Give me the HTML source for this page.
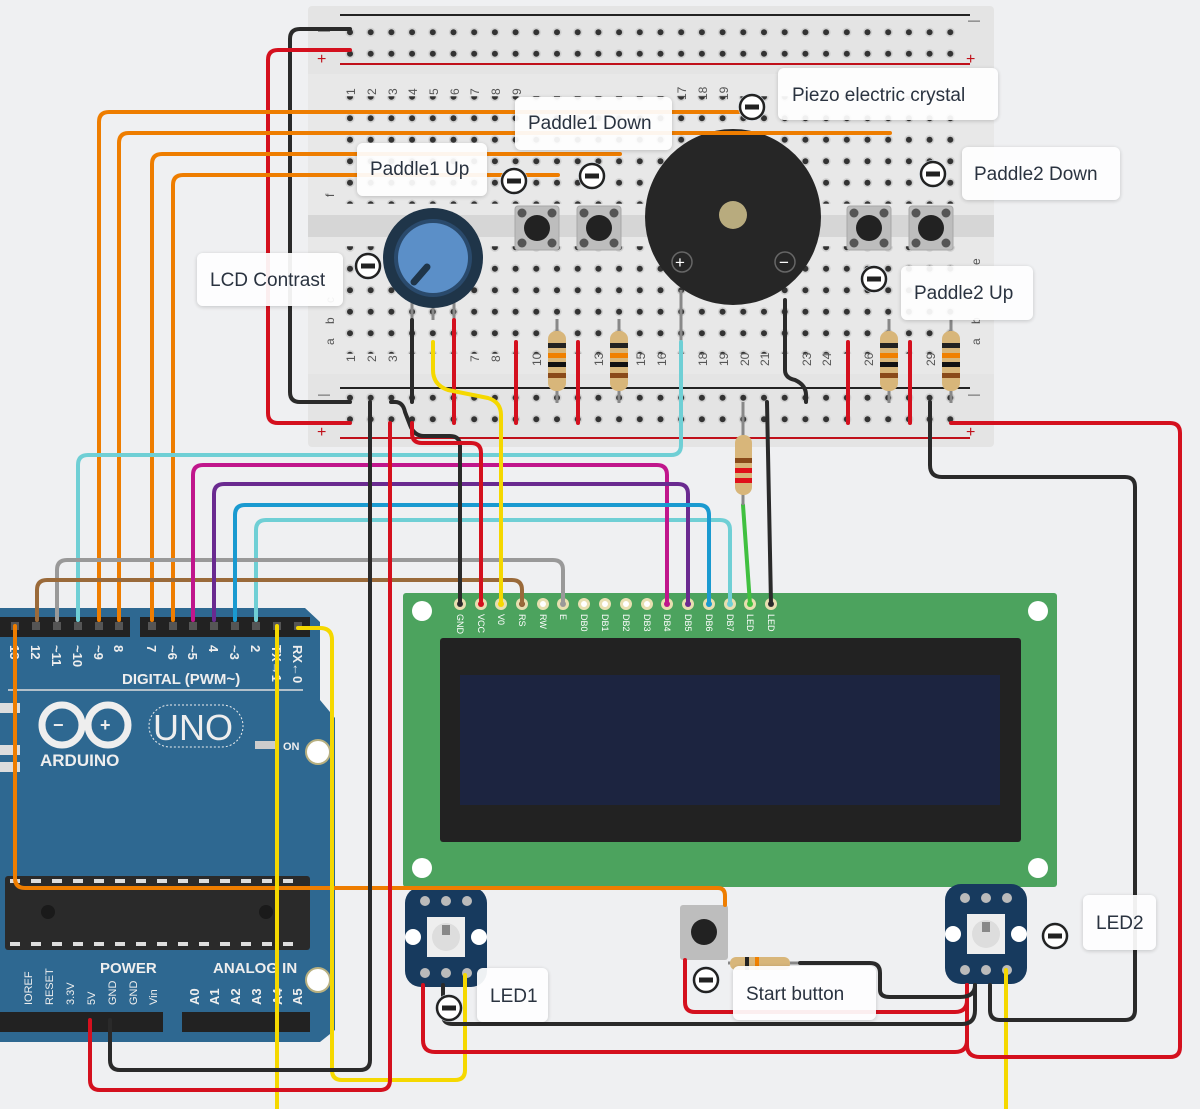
<!DOCTYPE html>
<html><head><meta charset="utf-8"><style>
html,body{margin:0;padding:0;background:#eff0f2;}
svg{display:block;font-family:"Liberation Sans","DejaVu Sans",sans-serif;}
.w{fill:none;stroke-width:4;stroke-linecap:round;stroke-linejoin:round;}
.lbl{font-size:19px;fill:#2a3340;}
.pl{font-size:9px;fill:#fff;}
</style></head><body>
<svg width="1200" height="1109" viewBox="0 0 1200 1109">
<defs>
<pattern id="h" x="339.65" y="0" width="20.7" height="21.5" patternUnits="userSpaceOnUse">
<circle cx="10.35" cy="10.75" r="4.6" fill="#d0d0d0"/><circle cx="10.35" cy="10.75" r="3" fill="#333"/></pattern>
<filter id="sh" x="-10%" y="-20%" width="120%" height="150%"><feDropShadow dx="0" dy="1" stdDeviation="2" flood-opacity="0.2"/></filter>
<g id="mi"><circle r="14" fill="#dfe6ee" opacity="0.8"/><circle r="12" fill="#fff" stroke="#222" stroke-width="2.5"/><rect x="-7" y="-2.5" width="14" height="5" fill="#222"/></g>
<g id="btn"><rect x="-22" y="-22" width="44" height="44" rx="3" fill="#bdbdbd" stroke="#a8a8a8"/><circle cx="-15" cy="-15" r="4.5" fill="#555"/><circle cx="15" cy="-15" r="4.5" fill="#555"/><circle cx="-15" cy="15" r="4.5" fill="#555"/><circle cx="15" cy="15" r="4.5" fill="#555"/><circle r="13" fill="#222"/></g>
<g id="res"><line x1="0" y1="-42" x2="0" y2="42" stroke="#888" stroke-width="3"/><rect x="-9" y="-30" width="18" height="60" rx="8" fill="#d8b67a"/><rect x="-9" y="-18" width="18" height="5" fill="#222"/><rect x="-9" y="-8" width="18" height="5" fill="#f08000"/><rect x="-9" y="1" width="18" height="5" fill="#111"/><rect x="-9" y="12" width="18" height="5" fill="#8a4a1a"/></g>
<g id="led"><rect x="0" y="0" width="82" height="100" rx="16" fill="#173a5e"/><circle cx="20" cy="14" r="5" fill="#bbb"/><circle cx="41" cy="14" r="5" fill="#bbb"/><circle cx="62" cy="14" r="5" fill="#bbb"/><circle cx="20" cy="86" r="5" fill="#bbb"/><circle cx="41" cy="86" r="5" fill="#bbb"/><circle cx="62" cy="86" r="5" fill="#bbb"/><rect x="22" y="30" width="38" height="40" fill="#eee"/><circle cx="41" cy="50" r="14" fill="#ddd"/><rect x="37" y="38" width="8" height="10" fill="#888"/><circle cx="8" cy="50" r="8" fill="#fff"/><circle cx="74" cy="50" r="8" fill="#fff"/></g>
</defs>

<!-- breadboard -->
<rect x="308" y="6" width="686" height="441" rx="4" fill="#e4e4e4"/>
<rect x="308" y="74" width="686" height="300" fill="#e8e8e8"/>
<rect x="308" y="215" width="686" height="22" fill="#d6d6d6"/>
<line x1="340" y1="15" x2="970" y2="15" stroke="#222" stroke-width="2"/>
<line x1="340" y1="64" x2="970" y2="64" stroke="#c0101a" stroke-width="2"/>
<line x1="340" y1="388" x2="970" y2="388" stroke="#222" stroke-width="2"/>
<line x1="340" y1="438" x2="970" y2="438" stroke="#c0101a" stroke-width="2"/>
<rect x="340" y="18.5" width="621" height="43" fill="url(#h)"/>
<rect x="340" y="96.25" width="621" height="107.5" fill="url(#h)"/>
<rect x="340" y="246.25" width="621" height="107.5" fill="url(#h)"/>
<rect x="340" y="391.5" width="621" height="43" fill="url(#h)"/>
<g font-size="12" fill="#444">
<text x="318" y="34">—</text><text x="317" y="64" fill="#c0101a" font-size="16">+</text>
<text x="968" y="24">—</text><text x="966" y="64" fill="#c0101a" font-size="16">+</text>
<text x="318" y="398">—</text><text x="317" y="437" fill="#c0101a" font-size="16">+</text>
<text x="968" y="398">—</text><text x="966" y="437" fill="#c0101a" font-size="16">+</text>
</g>
<g font-size="12" fill="#555">
<text transform="translate(355,95) rotate(-90)">1</text><text transform="translate(376,95) rotate(-90)">2</text><text transform="translate(397,95) rotate(-90)">3</text><text transform="translate(417,95) rotate(-90)">4</text><text transform="translate(438,95) rotate(-90)">5</text><text transform="translate(459,95) rotate(-90)">6</text><text transform="translate(479,95) rotate(-90)">7</text><text transform="translate(500,95) rotate(-90)">8</text><text transform="translate(521,95) rotate(-90)">9</text><text transform="translate(686,100) rotate(-90)">17</text><text transform="translate(707,100) rotate(-90)">18</text><text transform="translate(728,100) rotate(-90)">19</text>
<text transform="translate(355,362) rotate(-90)">1</text><text transform="translate(376,362) rotate(-90)">2</text><text transform="translate(397,362) rotate(-90)">3</text><text transform="translate(479,362) rotate(-90)">7</text><text transform="translate(500,362) rotate(-90)">8</text><text transform="translate(541,366) rotate(-90)">10</text><text transform="translate(603,366) rotate(-90)">13</text><text transform="translate(645,366) rotate(-90)">15</text><text transform="translate(666,366) rotate(-90)">16</text><text transform="translate(707,366) rotate(-90)">18</text><text transform="translate(728,366) rotate(-90)">19</text><text transform="translate(749,366) rotate(-90)">20</text><text transform="translate(769,366) rotate(-90)">21</text><text transform="translate(811,366) rotate(-90)">23</text><text transform="translate(831,366) rotate(-90)">24</text><text transform="translate(873,366) rotate(-90)">26</text><text transform="translate(935,366) rotate(-90)">29</text>
<text transform="translate(334,345) rotate(-90)">a</text><text transform="translate(334,324) rotate(-90)">b</text><text transform="translate(334,303) rotate(-90)">c</text><text transform="translate(334,197) rotate(-90)">f</text>
<text transform="translate(980,345) rotate(-90)">a</text><text transform="translate(980,324) rotate(-90)">b</text><text transform="translate(980,265) rotate(-90)">e</text>
</g>

<!-- buzzer -->
<line x1="681" y1="290" x2="681" y2="341" stroke="#888" stroke-width="3"/>
<circle cx="733" cy="217" r="88" fill="#262626"/>
<circle cx="733" cy="215" r="14" fill="#b8ab7e"/>
<circle cx="682" cy="262" r="10" fill="none" stroke="#666" stroke-width="1.5"/><text x="675" y="268" font-size="17" fill="#fff">+</text>
<circle cx="785" cy="262" r="10" fill="none" stroke="#666" stroke-width="1.5"/><text x="779" y="268" font-size="17" fill="#fff">−</text>

<!-- buttons -->
<use href="#btn" x="537" y="228"/><use href="#btn" x="599" y="228"/><use href="#btn" x="869" y="228"/><use href="#btn" x="931" y="228"/>

<!-- pot -->
<line x1="412" y1="300" x2="412" y2="320" stroke="#888" stroke-width="3"/><line x1="433" y1="300" x2="433" y2="320" stroke="#888" stroke-width="3"/><line x1="454" y1="300" x2="454" y2="320" stroke="#888" stroke-width="3"/>
<circle cx="433" cy="258" r="50" fill="#1f3549"/>
<circle cx="433" cy="258" r="39" fill="#2a4a6c"/>
<circle cx="433" cy="258" r="35" fill="#5b8fc8"/>
<line x1="427" y1="267" x2="414" y2="282" stroke="#1f3549" stroke-width="7" stroke-linecap="round"/>

<!-- breadboard internal wires -->
<g class="w">
<path d="M412 320V402" stroke="#2a2a2a"/>
<path d="M454 320V423" stroke="#d4101e"/>
<path d="M516 342V423" stroke="#d4101e"/>
<path d="M578 342V423" stroke="#d4101e"/>
<path d="M785 300V370Q785 378 795 380Q806 385 806 395V402" stroke="#2a2a2a"/>
<path d="M848 342V423" stroke="#d4101e"/>
<path d="M910 342V423" stroke="#d4101e"/>
</g>
<use href="#res" x="557" y="361"/><use href="#res" x="619" y="361"/><use href="#res" x="889" y="361"/><use href="#res" x="951" y="361"/>

<!-- LCD -->
<rect x="403" y="593" width="654" height="294" rx="3" fill="#4ca35e"/>
<circle cx="422" cy="611" r="10" fill="#fff"/><circle cx="1038" cy="611" r="10" fill="#fff"/><circle cx="422" cy="868" r="10" fill="#fff"/><circle cx="1038" cy="868" r="10" fill="#fff"/>
<rect x="440" y="638" width="581" height="204" rx="3" fill="#222"/>
<rect x="460" y="675" width="540" height="130" fill="#1c2440"/>
<g>
<circle cx="460" cy="604" r="6" fill="#e8dfb0"/><circle cx="460" cy="604" r="3" fill="#333"/>
<circle cx="481" cy="604" r="6" fill="#e8dfb0"/><circle cx="481" cy="604" r="3" fill="#d4101e"/>
<circle cx="501" cy="604" r="6" fill="#e8dfb0"/><circle cx="501" cy="604" r="3" fill="#f5d800"/>
<circle cx="522" cy="604" r="6" fill="#e8dfb0"/><circle cx="522" cy="604" r="3" fill="#8a5a30"/>
<circle cx="543" cy="604" r="6" fill="#e8dfb0"/><circle cx="543" cy="604" r="3" fill="#fff"/>
<circle cx="563" cy="604" r="6" fill="#e8dfb0"/><circle cx="563" cy="604" r="3" fill="#999"/>
<circle cx="584" cy="604" r="6" fill="#e8dfb0"/><circle cx="584" cy="604" r="3" fill="#fff"/>
<circle cx="605" cy="604" r="6" fill="#e8dfb0"/><circle cx="605" cy="604" r="3" fill="#fff"/>
<circle cx="626" cy="604" r="6" fill="#e8dfb0"/><circle cx="626" cy="604" r="3" fill="#fff"/>
<circle cx="647" cy="604" r="6" fill="#e8dfb0"/><circle cx="647" cy="604" r="3" fill="#fff"/>
<circle cx="667" cy="604" r="6" fill="#e8dfb0"/><circle cx="667" cy="604" r="3" fill="#c0168c"/>
<circle cx="688" cy="604" r="6" fill="#e8dfb0"/><circle cx="688" cy="604" r="3" fill="#6a2a90"/>
<circle cx="709" cy="604" r="6" fill="#e8dfb0"/><circle cx="709" cy="604" r="3" fill="#1a9ad0"/>
<circle cx="730" cy="604" r="6" fill="#e8dfb0"/><circle cx="730" cy="604" r="3" fill="#70d0d8"/>
<circle cx="750" cy="604" r="6" fill="#e8dfb0"/><circle cx="750" cy="604" r="3" fill="#40c040"/>
<circle cx="771" cy="604" r="6" fill="#e8dfb0"/><circle cx="771" cy="604" r="3" fill="#333"/>
</g>
<g class="pl">
<text transform="translate(457,614) rotate(90)">GND</text><text transform="translate(478,614) rotate(90)">VCC</text><text transform="translate(498,614) rotate(90)">V0</text><text transform="translate(519,614) rotate(90)">RS</text><text transform="translate(540,614) rotate(90)">RW</text><text transform="translate(560,614) rotate(90)">E</text><text transform="translate(581,614) rotate(90)">DB0</text><text transform="translate(602,614) rotate(90)">DB1</text><text transform="translate(623,614) rotate(90)">DB2</text><text transform="translate(644,614) rotate(90)">DB3</text><text transform="translate(664,614) rotate(90)">DB4</text><text transform="translate(685,614) rotate(90)">DB5</text><text transform="translate(706,614) rotate(90)">DB6</text><text transform="translate(727,614) rotate(90)">DB7</text><text transform="translate(747,614) rotate(90)">LED</text><text transform="translate(768,614) rotate(90)">LED</text>
</g>

<!-- Arduino -->
<path d="M0 608H305L320 622V700L335 718V1030L320 1042H0Z" fill="#2e6891"/>
<rect x="0" y="617" width="130" height="20" fill="#222"/><rect x="140" y="617" width="170" height="20" fill="#222"/>
<rect x="0" y="1012" width="163" height="20" fill="#222"/><rect x="182" y="1012" width="128" height="20" fill="#222"/>
<g fill="#555"><rect x="11" y="622" width="8" height="8"/><rect x="32" y="622" width="8" height="8"/><rect x="53" y="622" width="8" height="8"/><rect x="74" y="622" width="8" height="8"/><rect x="95" y="622" width="8" height="8"/><rect x="115" y="622" width="8" height="8"/><rect x="148" y="622" width="8" height="8"/><rect x="169" y="622" width="8" height="8"/><rect x="189" y="622" width="8" height="8"/><rect x="210" y="622" width="8" height="8"/><rect x="231" y="622" width="8" height="8"/><rect x="252" y="622" width="8" height="8"/><rect x="273" y="622" width="8" height="8"/><rect x="294" y="622" width="8" height="8"/></g>
<g font-size="13" fill="#eee" font-weight="bold">
<text transform="translate(10,645) rotate(90)">13</text><text transform="translate(31,645) rotate(90)">12</text><text transform="translate(52,645) rotate(90)">~11</text><text transform="translate(73,645) rotate(90)">~10</text><text transform="translate(94,645) rotate(90)">~9</text><text transform="translate(114,645) rotate(90)">8</text><text transform="translate(147,645) rotate(90)">7</text><text transform="translate(168,645) rotate(90)">~6</text><text transform="translate(188,645) rotate(90)">~5</text><text transform="translate(209,645) rotate(90)">4</text><text transform="translate(230,645) rotate(90)">~3</text><text transform="translate(251,645) rotate(90)">2</text><text transform="translate(272,645) rotate(90)">TX→1</text><text transform="translate(293,645) rotate(90)">RX←0</text>
<text x="122" y="684" font-size="15">DIGITAL (PWM~)</text>
<text x="40" y="766" font-size="17">ARDUINO</text>
<text x="100" y="973" font-size="15">POWER</text><text x="213" y="973" font-size="15">ANALOG IN</text>
<text x="283" y="750" font-size="11">ON</text>
</g>
<line x1="8" y1="690" x2="303" y2="690" stroke="#ddd" stroke-width="1.5"/>
<g fill="none" stroke="#eee" stroke-width="7"><circle cx="62" cy="725" r="20"/><circle cx="108" cy="725" r="20"/></g>
<text x="53" y="731" fill="#eee" font-size="18" font-weight="bold">−</text><text x="100" y="731" fill="#eee" font-size="18" font-weight="bold">+</text>
<rect x="149" y="705" width="94" height="42" rx="21" fill="none" stroke="#eee" stroke-width="1" stroke-dasharray="2 2"/>
<text x="153" y="740" font-size="36" fill="#eee">UNO</text>
<rect x="255" y="741" width="20" height="8" fill="#ccc"/>
<circle cx="318" cy="752" r="12" fill="#fff" stroke="#b8b080" stroke-width="2"/><circle cx="318" cy="980" r="12" fill="#fff" stroke="#b8b080" stroke-width="2"/>
<rect x="0" y="703" width="20" height="10" fill="#ddd"/><rect x="0" y="745" width="20" height="10" fill="#ddd"/><rect x="0" y="762" width="20" height="10" fill="#ddd"/>
<rect x="5" y="876" width="305" height="74" rx="3" fill="#2a2a2a"/>
<g fill="#ddd"><rect x="10" y="879" width="10" height="4"/><rect x="31" y="879" width="10" height="4"/><rect x="52" y="879" width="10" height="4"/><rect x="73" y="879" width="10" height="4"/><rect x="94" y="879" width="10" height="4"/><rect x="115" y="879" width="10" height="4"/><rect x="136" y="879" width="10" height="4"/><rect x="157" y="879" width="10" height="4"/><rect x="178" y="879" width="10" height="4"/><rect x="199" y="879" width="10" height="4"/><rect x="220" y="879" width="10" height="4"/><rect x="241" y="879" width="10" height="4"/><rect x="262" y="879" width="10" height="4"/><rect x="283" y="879" width="10" height="4"/>
<rect x="10" y="942" width="10" height="4"/><rect x="31" y="942" width="10" height="4"/><rect x="52" y="942" width="10" height="4"/><rect x="73" y="942" width="10" height="4"/><rect x="94" y="942" width="10" height="4"/><rect x="115" y="942" width="10" height="4"/><rect x="136" y="942" width="10" height="4"/><rect x="157" y="942" width="10" height="4"/><rect x="178" y="942" width="10" height="4"/><rect x="199" y="942" width="10" height="4"/><rect x="220" y="942" width="10" height="4"/><rect x="241" y="942" width="10" height="4"/><rect x="262" y="942" width="10" height="4"/><rect x="283" y="942" width="10" height="4"/></g>
<circle cx="48" cy="912" r="7" fill="#1a1a1a"/><circle cx="266" cy="912" r="7" fill="#1a1a1a"/>
<g font-size="11" fill="#eee">
<text transform="translate(32,1005) rotate(-90)">IOREF</text><text transform="translate(53,1005) rotate(-90)">RESET</text><text transform="translate(74,1005) rotate(-90)">3.3V</text><text transform="translate(95,1005) rotate(-90)">5V</text><text transform="translate(116,1005) rotate(-90)">GND</text><text transform="translate(137,1005) rotate(-90)">GND</text><text transform="translate(157,1005) rotate(-90)">Vin</text>
<text font-size="13" font-weight="bold" transform="translate(199,1005) rotate(-90)">A0</text><text font-size="13" font-weight="bold" transform="translate(219,1005) rotate(-90)">A1</text><text font-size="13" font-weight="bold" transform="translate(240,1005) rotate(-90)">A2</text><text font-size="13" font-weight="bold" transform="translate(261,1005) rotate(-90)">A3</text><text font-size="13" font-weight="bold" transform="translate(282,1005) rotate(-90)">A4</text><text font-size="13" font-weight="bold" transform="translate(302,1005) rotate(-90)">A5</text>
</g>

<!-- LEDs and start button -->
<use href="#led" x="405" y="887"/><use href="#led" x="945" y="884"/>
<rect x="680" y="905" width="48" height="55" rx="3" fill="#bdbdbd"/><circle cx="704" cy="932" r="13" fill="#222"/>
<line x1="728" y1="963" x2="800" y2="963" stroke="#888" stroke-width="3"/>
<rect x="730" y="957" width="60" height="13" rx="6" fill="#d8b67a"/><rect x="745" y="957" width="4" height="13" fill="#222"/><rect x="755" y="957" width="4" height="13" fill="#f08000"/>

<!-- wires -->
<g class="w">
<!-- rails top-left -->
<path d="M350 29H300Q290 29 290 39V392Q290 402 300 402H350" stroke="#2a2a2a"/>
<path d="M350 50H278Q268 50 268 60V413Q268 423 278 423H350" stroke="#d4101e"/>
<!-- orange -->
<path d="M99 620V122Q99 112 109 112H752" stroke="#ee7d00"/>
<path d="M119 620V143Q119 133 129 133H890" stroke="#ee7d00"/>
<path d="M152 620V164Q152 154 162 154H620" stroke="#ee7d00"/>
<path d="M173 620V185Q173 175 183 175H558" stroke="#ee7d00"/>
<path d="M15 626V878Q15 888 25 888H718Q725 888 725 896V905" stroke="#ee7d00"/>
<!-- cyan -->
<path d="M78 620V465Q78 455 88 455H671Q681 455 681 445V342" stroke="#6fcfd5"/>
<path d="M256 620V530Q256 520 266 520H720Q730 520 730 530V604" stroke="#6fcfd5"/>
<!-- gray/brown -->
<path d="M57 620V570Q57 560 67 560H553Q563 560 563 570V604" stroke="#999"/>
<path d="M37 620V590Q37 580 47 580H512Q522 580 522 590V604" stroke="#9a6a3a"/>
<!-- magenta/purple/blue -->
<path d="M193 620V475Q193 465 203 465H657Q667 465 667 475V604" stroke="#c0168c"/>
<path d="M214 620V494Q214 484 224 484H678Q688 484 688 494V604" stroke="#6a2a90"/>
<path d="M235 620V515Q235 505 245 505H699Q709 505 709 515V604" stroke="#1a9ad0"/>
<!-- yellow -->
<path d="M433 342V370Q433 385 448 390L488 398Q501 402 501 415V604" stroke="#f5d800"/>
<path d="M298 628H320Q332 628 332 640V1070Q332 1080 342 1080H455Q465 1080 465 1070V975" stroke="#f5d800"/>
<path d="M277 626V1109" stroke="#f5d800"/>
<path d="M1006 970V1109" stroke="#f5d800"/>
<!-- breadboard to arduino power -->
<path d="M370 402V1060Q370 1070 360 1070H120Q110 1070 110 1060V1020" stroke="#2a2a2a"/>
<path d="M390 423V1080Q390 1090 380 1090H100Q90 1090 90 1080V1020" stroke="#d4101e"/>
<path d="M391 402H395Q403 402 405 412L410 425Q414 436 424 436H450Q460 436 460 446V604" stroke="#2a2a2a"/>
<path d="M412 423V433Q412 443 422 443H471Q481 443 481 453V604" stroke="#d4101e"/>
<!-- LED pins -->
<path d="M767 402L771 604" stroke="#2a2a2a"/>
<path d="M743 505L750 604" stroke="#40c040"/>
<!-- right side -->
<path d="M930 402V465Q930 477 942 477H1125Q1135 477 1135 487V1010Q1135 1020 1125 1020H1000Q990 1020 990 1010V985" stroke="#2a2a2a"/>
<path d="M951 423H1170Q1180 423 1180 433V1047Q1180 1057 1170 1057H980Q967 1057 967 1045V985" stroke="#d4101e"/>
<!-- bottom -->
<path d="M443 985V1015Q443 1024 453 1024H962Q975 1024 975 1010V985" stroke="#2a2a2a"/>
<path d="M423 985V1040Q423 1052 435 1052H955Q967 1052 967 1040" stroke="#d4101e"/>
<path d="M685 960V1002Q685 1012 695 1012H955Q967 1012 967 1000V985" stroke="#d4101e"/>
<path d="M800 963H870Q880 963 880 973V990Q880 997 890 997H960Q975 997 975 985" stroke="#2a2a2a"/>
</g>
<line x1="743" y1="402" x2="743" y2="505" stroke="#888" stroke-width="3"/>
<rect x="735" y="435" width="17" height="60" rx="8" fill="#d8b67a"/><rect x="735" y="458" width="17" height="5" fill="#8a4a1a"/><rect x="735" y="468" width="17" height="5" fill="#e0101a"/><rect x="735" y="478" width="17" height="5" fill="#e0101a"/>

<!-- callouts -->
<g filter="url(#sh)" fill="#fff" opacity="0.93">
<rect x="778" y="68" width="220" height="52" rx="6"/>
<rect x="515" y="97" width="157" height="53" rx="6"/>
<rect x="357" y="143" width="130" height="53" rx="6"/>
<rect x="962" y="147" width="158" height="53" rx="6"/>
<rect x="197" y="253" width="146" height="53" rx="6"/>
<rect x="901" y="266" width="132" height="54" rx="6"/>
<rect x="477" y="968" width="71" height="54" rx="6"/>
<rect x="733" y="966" width="143" height="54" rx="6"/>
<rect x="1083" y="895" width="73" height="55" rx="6"/>
</g>
<g class="lbl">
<text x="792" y="101">Piezo electric crystal</text>
<text x="528" y="129">Paddle1 Down</text>
<text x="370" y="175">Paddle1 Up</text>
<text x="974" y="180">Paddle2 Down</text>
<text x="210" y="286">LCD Contrast</text>
<text x="914" y="299">Paddle2 Up</text>
<text x="490" y="1002">LED1</text>
<text x="746" y="1000">Start button</text>
<text x="1096" y="929">LED2</text>
</g>
<use href="#mi" x="752" y="107"/><use href="#mi" x="592" y="176"/><use href="#mi" x="514" y="181"/><use href="#mi" x="933" y="174"/><use href="#mi" x="368" y="266"/><use href="#mi" x="874" y="279"/><use href="#mi" x="449" y="1008"/><use href="#mi" x="706" y="980"/><use href="#mi" x="1055" y="936"/>
</svg>
</body></html>
